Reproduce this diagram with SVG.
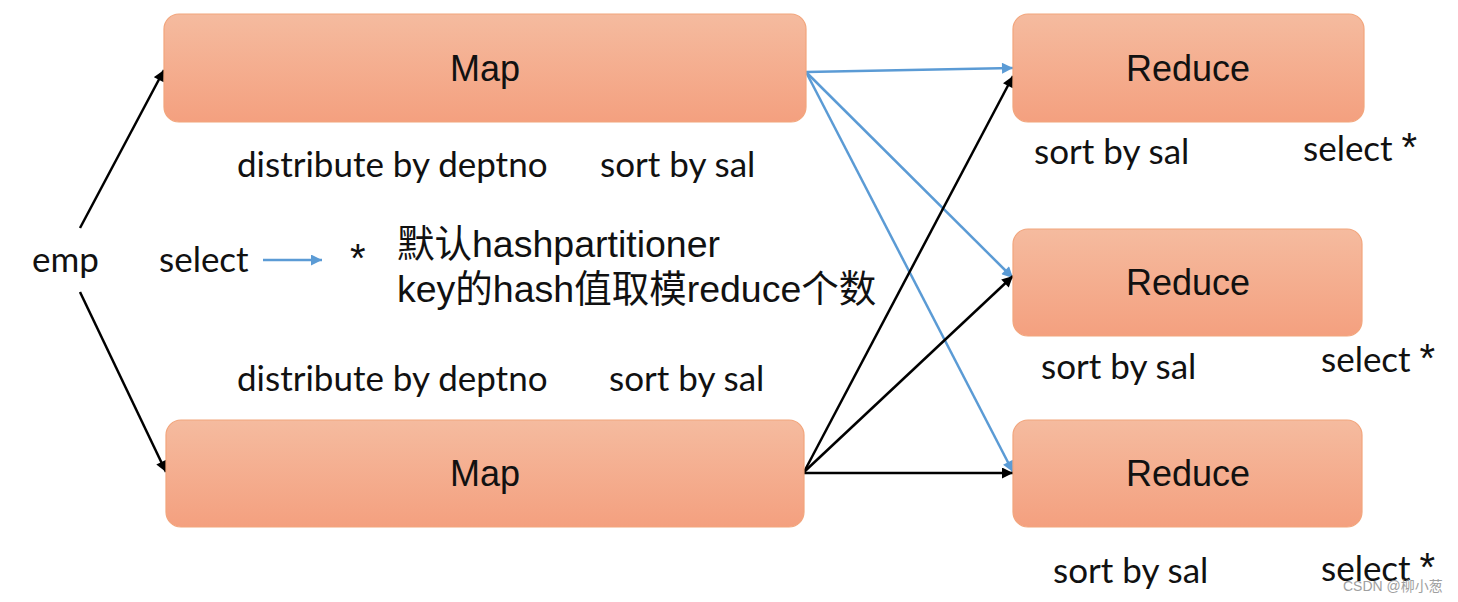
<svg xmlns="http://www.w3.org/2000/svg" width="1458" height="602" viewBox="0 0 1458 602">
<defs>
<linearGradient id="g" x1="0" y1="0" x2="0" y2="1">
<stop offset="0" stop-color="#f5bb9f"/>
<stop offset="1" stop-color="#f4a07f"/>
</linearGradient>
<marker id="ab" viewBox="0 0 10 10" refX="10" refY="5" markerWidth="12" markerHeight="11" markerUnits="userSpaceOnUse" orient="auto"><path d="M0,0 L10,5 L0,10 z" fill="#000"/></marker>
<marker id="au" viewBox="0 0 10 10" refX="10" refY="5" markerWidth="12" markerHeight="11" markerUnits="userSpaceOnUse" orient="auto"><path d="M0,0 L10,5 L0,10 z" fill="#5b9bd5"/></marker>
</defs>
<style>
.box{fill:url(#g);stroke:#f2a57c;stroke-width:1.2}
.t{font-family:Arial,"Liberation Sans",sans-serif;font-size:36px;fill:#111;text-anchor:middle}
.l{font-family:Lato,"Open Sans",sans-serif;font-size:35px;fill:#111}
.s{font-family:"Liberation Sans",sans-serif;font-size:40px}
.c{font-family:"Liberation Sans","Noto Sans CJK SC",sans-serif;font-size:37.5px;fill:#111}
.b{stroke:#000;stroke-width:2.5;fill:none;marker-end:url(#ab)}
.u{stroke:#5b9bd5;stroke-width:2.5;fill:none;marker-end:url(#au)}
</style>
<rect width="1458" height="602" fill="#fff"/>
<g id="connectors">
<line class="b" x1="80" y1="228" x2="164" y2="70"/>
<line class="b" x1="80" y1="292" x2="166" y2="472"/>
<line class="u" x1="806" y1="72" x2="1013" y2="68"/>
<line class="u" x1="806" y1="72" x2="1013" y2="278"/>
<line class="u" x1="806" y1="72" x2="1013" y2="472"/>
<line class="b" x1="804" y1="472" x2="1013" y2="76"/>
<line class="b" x1="804" y1="472" x2="1013" y2="276"/>
<line class="b" x1="804" y1="473" x2="1013" y2="473"/>
<line class="u" x1="263" y1="260" x2="322" y2="260"/>
</g>
<g id="map1"><rect class="box" x="164" y="14" width="642" height="108" rx="15"/><text class="t" x="485" y="81">Map</text></g>
<g id="map2"><rect class="box" x="166" y="420" width="638" height="107" rx="15"/><text class="t" x="485" y="486">Map</text></g>
<g id="reduce1"><rect class="box" x="1013" y="14" width="351" height="108" rx="15"/><text class="t" x="1188" y="81">Reduce</text></g>
<g id="reduce2"><rect class="box" x="1013" y="229" width="349" height="107" rx="15"/><text class="t" x="1188" y="295">Reduce</text></g>
<g id="reduce3"><rect class="box" x="1013" y="420" width="349" height="107" rx="15"/><text class="t" x="1188" y="486">Reduce</text></g>
<g id="labels">
<text class="l" x="237" y="177">distribute by deptno</text>
<text class="l" x="600" y="177">sort by sal</text>
<text class="l" x="237" y="391">distribute by deptno</text>
<text class="l" x="609" y="391">sort by sal</text>
<text class="l" x="32" y="272">emp</text>
<text class="l" x="159" y="272">select</text>
<text class="l s" x="350" y="272">*</text>
<text class="c" x="397" y="257">默认hashpartitioner</text>
<text class="c" x="397" y="302">key的hash值取模reduce个数</text>
<text class="l" x="1034" y="164">sort by sal</text>
<text class="l" x="1303" y="161">select <tspan class="s">*</tspan></text>
<text class="l" x="1041" y="379">sort by sal</text>
<text class="l" x="1321" y="372">select <tspan class="s">*</tspan></text>
<text class="l" x="1053" y="583">sort by sal</text>
<text class="l" x="1321" y="581">select <tspan class="s">*</tspan></text>
<text x="1343" y="591" font-family="'Liberation Sans','Noto Sans CJK SC',sans-serif" font-size="14" fill="#888" opacity="0.8">CSDN @柳小葱</text>
</g>
</svg>
